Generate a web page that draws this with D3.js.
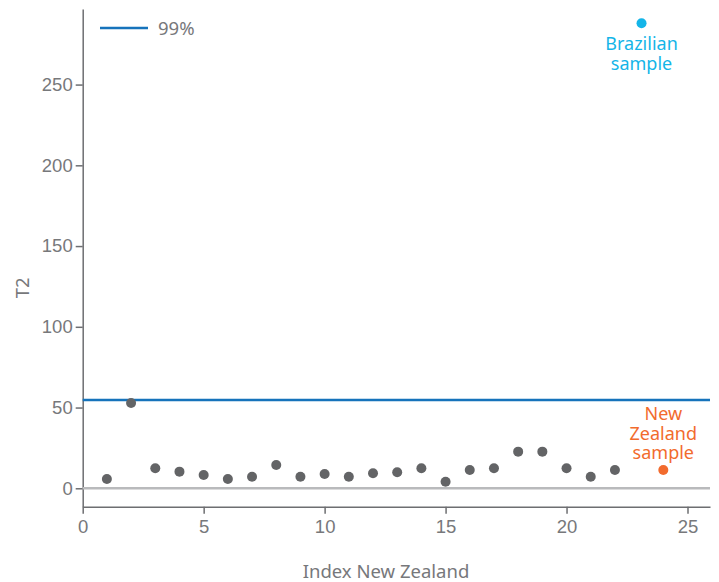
<!DOCTYPE html>
<html lang="en">
<head>
    <meta charset="UTF-8">
    <title>T2 chart</title>
    <script src="https://d3js.org/d3.v7.min.js"></script>
    <style>
        body { margin: 0; background: #fff; }
        svg { font-family: "Noto Sans", sans-serif; }
        .axis path, .axis line { stroke: #6d6e71; stroke-width: 1.5px; }
        .axis text { fill: #77787b; font-size: 18.5px; }
        .title { fill: #77787b; font-size: 18.5px; }
    </style>
</head>
<body>
    <svg width="719" height="582"></svg>
    <script>
        // New Zealand samples (index, T2)
        const nzIndex = [1, 2, 3, 4, 5, 6, 7, 8, 9, 10, 11, 12, 13, 14, 15, 16, 17, 18, 19, 20, 21, 22];
        const nzT2 = [5.8, 52.8, 12.4, 10.3, 8.2, 5.8, 7.2, 14.4, 7.2, 8.8, 7.2, 9.3, 9.9, 12.4, 4.1, 11.3, 12.4, 22.7, 22.7, 12.4, 7.2, 11.3];
        const brazil = { x: 23.1, y: 288 };
        const nzSample = { x: 24, y: 11.3 };
        const limit99 = 54.7;
        const xTicks = [0, 5, 10, 15, 20, 25];
        const yTicks = [0, 50, 100, 150, 200, 250];

        const svg = d3.select("svg");
        const plotL = 82.7, plotR = 710, plotT = 9, plotB = 506.7;

        const x = d3.scaleLinear().domain([0, 25.93]).range([plotL, plotR]);
        const y = d3.scaleLinear().domain([-11.4, 296.8]).range([plotB, plotT]);

        svg.append("g")
            .attr("class", "axis")
            .attr("transform", `translate(0,${plotB})`)
            .call(d3.axisBottom(x).tickValues(xTicks).tickSize(7).tickPadding(6).tickSizeOuter(0));

        svg.append("g")
            .attr("class", "axis")
            .attr("transform", `translate(${plotL},0)`)
            .call(d3.axisLeft(y).tickValues(yTicks).tickSize(7).tickPadding(3).tickSizeOuter(0));

        // zero line
        svg.append("line")
            .attr("x1", x(0)).attr("x2", plotR)
            .attr("y1", y(0)).attr("y2", y(0))
            .attr("stroke", "#b9babc").attr("stroke-width", 2.5);

        // 99% limit
        svg.append("line")
            .attr("x1", x(0)).attr("x2", plotR)
            .attr("y1", y(limit99)).attr("y2", y(limit99))
            .attr("stroke", "#1673bb").attr("stroke-width", 2.5);

        svg.append("g").selectAll("circle")
            .data(nzIndex)
            .join("circle")
            .attr("cx", d => x(d))
            .attr("cy", (d, i) => y(nzT2[i]))
            .attr("r", 5)
            .attr("fill", "#636466");

        svg.append("circle")
            .attr("cx", x(brazil.x)).attr("cy", y(brazil.y))
            .attr("r", 5).attr("fill", "#14b5e8");

        svg.append("circle")
            .attr("cx", x(nzSample.x)).attr("cy", y(nzSample.y))
            .attr("r", 5).attr("fill", "#f26b2d");

        svg.append("text")
            .attr("x", x(brazil.x)).attr("y", y(brazil.y) + 27)
            .attr("text-anchor", "middle").attr("fill", "#14b5e8").style("font-size", "18px")
            .selectAll("tspan").data(["Brazilian", "sample"]).join("tspan")
            .attr("x", x(brazil.x)).attr("dy", (d, i) => i ? 20 : 0).text(d => d);

        svg.append("text")
            .attr("x", x(nzSample.x)).attr("y", y(nzSample.y) - 50)
            .attr("text-anchor", "middle").attr("fill", "#f26b2d").style("font-size", "18px")
            .selectAll("tspan").data(["New", "Zealand", "sample"]).join("tspan")
            .attr("x", x(nzSample.x)).attr("dy", (d, i) => i ? 19.5 : 0).text(d => d);

        // legend
        svg.append("line")
            .attr("x1", 100).attr("x2", 148).attr("y1", 28).attr("y2", 28)
            .attr("stroke", "#1673bb").attr("stroke-width", 2.5);
        svg.append("text").attr("class", "title")
            .attr("x", 158).attr("y", 34.5).text("99%");

        svg.append("text").attr("class", "title")
            .attr("x", 386).attr("y", 578)
            .attr("text-anchor", "middle").text("Index New Zealand");

        svg.append("text").attr("class", "title")
            .attr("transform", `translate(29,${(plotT + plotB) / 2 + 30}) rotate(-90)`)
            .attr("text-anchor", "middle").text("T2");
    </script>
</body>
</html>
